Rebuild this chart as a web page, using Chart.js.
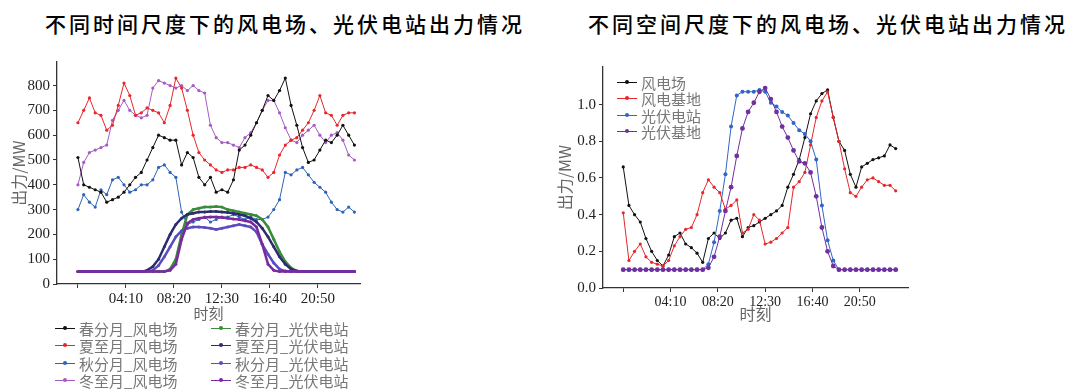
<!DOCTYPE html>
<html>
<head>
<meta charset="utf-8">
<script src="https://cdn.jsdelivr.net/npm/chart.js@4.4.1/dist/chart.umd.min.js"></script>
<style>
  body { margin: 0; background: #fff; width: 1077px; height: 389px; position: relative; overflow: hidden; font-family: "Noto Sans CJK SC", sans-serif; }
  .title { position: absolute; top: 8px; font-size: 21px; font-weight: 500; letter-spacing: 3px; color: #000; white-space: nowrap; transform: translateX(-50%); }
  .wrap { position: absolute; top: 46px; height: 276px; }
  .legend { position: absolute; font-size: 15px; color: #777; line-height: 1; }
  .item { position: absolute; display: flex; align-items: center; white-space: nowrap; }
  .mk { position: relative; width: 20px; height: 1px; margin-right: 4px; }
  .mk i { position: absolute; left: 8px; top: -2px; width: 4px; height: 4px; border-radius: 50%; }
</style>
</head>
<body>
<div class="title" style="left:285px">不同时间尺度下的风电场、光伏电站出力情况</div>
<div class="title" style="left:828px">不同空间尺度下的风电场、光伏电站出力情况</div>
<div class="wrap" style="left:0;width:385px"><canvas id="left"></canvas></div>
<div class="wrap" style="left:540px;width:400px"><canvas id="right"></canvas></div>
<div class="legend" id="legL"></div>
<div class="legend" id="legR"></div>
<script>
// time of day in minutes (00:00 .. 24:00, 30 min step)
const times = [0,30,60,90,120,150,180,210,240,270,300,330,360,390,420,450,480,510,540,570,600,630,660,690,720,
  750,780,810,840,870,900,930,960,990,1020,1050,1080,1110,1140,1170,1200,1230,1260,1290,1320,1350,1380,1410,1440];
const xTicks = [0,250,500,750,1000,1250];
const xTickLabels = ["","04:10","08:20","12:30","16:40","20:50"];

// left chart: seasonal months, MW
const springWind = [510,400,390,380,370,330,340,350,370,400,430,450,500,550,600,590,580,580,480,530,510,430,400,430,370,
  380,370,420,540,560,600,650,700,760,740,780,830,720,640,550,490,500,540,580,570,600,640,600,560];
const summerWind = [650,700,750,690,680,620,640,720,810,760,680,690,710,700,690,650,720,830,790,700,600,530,500,480,460,
  450,460,460,470,470,480,470,460,430,450,520,560,580,590,620,650,700,760,690,680,640,680,690,690];
const autumnWind = [300,360,330,310,380,360,420,430,400,370,380,400,400,420,470,480,450,430,290,240,250,260,270,250,260,
  270,270,280,270,260,270,260,260,270,300,340,450,440,460,470,440,410,390,370,330,300,290,310,290];
const winterWind = [400,490,530,540,550,560,660,700,740,700,680,670,680,790,820,810,800,790,800,780,800,780,770,640,590,
  570,570,560,550,590,610,650,700,740,740,690,630,580,570,600,620,640,600,570,600,610,580,520,500];
const springSolar = [50,50,50,50,50,50,50,50,50,50,50,50,50,50,50,50,60,100,200,280,300,305,310,310,312,
  310,300,295,290,285,280,275,260,230,180,130,90,65,52,50,50,50,50,50,50,50,50,50,50];
const summerSolar = [50,50,50,50,50,50,50,50,50,50,50,50,55,70,100,150,200,240,265,280,285,290,290,292,292,
  290,288,285,280,275,265,250,225,190,150,110,80,60,52,50,50,50,50,50,50,50,50,50,50];
const autumnSolar = [50,50,50,50,50,50,50,50,50,50,50,50,50,55,75,110,150,190,215,225,230,230,228,225,220,
  225,230,235,240,235,230,210,160,120,85,60,52,50,50,50,50,50,50,50,50,50,50,50,50];
const winterSolar = [50,50,50,50,50,50,50,50,50,50,50,50,50,50,50,50,55,80,180,245,260,265,268,270,270,
  268,265,262,260,255,250,230,160,80,55,50,50,50,50,50,50,50,50,50,50,50,50,50,50];
const yTicksL = [0,100,200,300,400,500,600,700,800];

// right chart: spatial scale, normalised output
const windFarm = [0.66,0.45,0.40,0.36,0.27,0.20,0.15,0.12,0.18,0.28,0.30,0.24,0.22,0.19,0.14,0.27,0.30,0.27,0.30,0.37,
  0.38,0.28,0.33,0.34,0.36,0.38,0.40,0.42,0.45,0.55,0.62,0.70,0.82,0.95,1.02,1.06,1.08,0.93,0.80,0.75,0.62,0.55,0.66,
  0.68,0.70,0.71,0.72,0.78,0.76];
const windBase = [0.41,0.15,0.20,0.24,0.17,0.14,0.13,0.12,0.15,0.23,0.28,0.32,0.33,0.40,0.52,0.59,0.55,0.52,0.43,0.45,
  0.48,0.30,0.32,0.40,0.37,0.24,0.25,0.27,0.30,0.33,0.55,0.58,0.63,0.78,0.93,1.02,1.07,0.93,0.80,0.65,0.52,0.50,0.55,
  0.59,0.60,0.58,0.56,0.56,0.53];
const pvStation = [0.10,0.10,0.10,0.10,0.10,0.10,0.10,0.10,0.10,0.10,0.10,0.10,0.10,0.10,0.10,0.13,0.25,0.42,0.62,0.88,
  1.05,1.07,1.07,1.07,1.08,1.07,1.01,0.99,0.96,0.94,0.90,0.86,0.84,0.80,0.70,0.45,0.26,0.15,0.10,0.10,0.10,0.10,0.10,
  0.10,0.10,0.10,0.10,0.10,0.10];
const pvBase = [0.10,0.10,0.10,0.10,0.10,0.10,0.10,0.10,0.10,0.10,0.10,0.10,0.10,0.10,0.10,0.11,0.17,0.28,0.42,0.55,
  0.72,0.87,0.96,1.01,1.07,1.09,1.03,0.96,0.88,0.82,0.75,0.69,0.68,0.63,0.50,0.33,0.20,0.12,0.10,0.10,0.10,0.10,0.10,
  0.10,0.10,0.10,0.10,0.10,0.10];
const yTicksR = [0,0.2,0.4,0.6,0.8,1.0];
const yTickLabelsR = ["0.0","0.2","0.4","0.6","0.8","1.0"];

function pts(vals) {
  return vals.map((v, i) => ({ x: times[i], y: v }));
}

function ds(label, vals, color, width, radius) {
  return {
    label: label,
    data: pts(vals),
    borderColor: color,
    backgroundColor: color,
    borderWidth: width,
    pointRadius: radius,
    pointBorderWidth: 0,
    pointBackgroundColor: color,
  };
}

const serif = "'Liberation Serif', 'Times New Roman', serif";
const cjk = "'Noto Sans CJK SC', sans-serif";

function makeConfig(datasets, o) {
  return {
    type: "line",
    data: { datasets: datasets },
    options: {
      responsive: true,
      maintainAspectRatio: false,
      animation: false,
      layout: { padding: { left: 0, top: o.padTop, right: o.padRight, bottom: 0 } },
      plugins: { legend: { display: false }, tooltip: { enabled: false } },
      scales: {
        x: {
          type: "linear",
          min: o.xMin,
          max: o.xMax,
          afterBuildTicks: (s) => { s.ticks = xTicks.map((v) => ({ value: v })); },
          afterFit: (s) => { s.height = o.xHeight; },
          ticks: {
            autoSkip: false, maxRotation: 0, padding: 2, color: "#222",
            font: { family: serif, size: o.tickSize },
            callback: (v, i) => xTickLabels[i],
          },
          grid: { drawOnChartArea: false, tickLength: 4, color: "#333" },
          border: { color: "#333", width: 1.3 },
          title: {
            display: true, text: "时刻", color: "#666",
            font: { family: cjk, size: o.titleSize, lineHeight: 1 },
            padding: { top: 0, bottom: o.xTitlePad },
          },
        },
        y: {
          min: 0,
          max: o.yMax,
          afterBuildTicks: (s) => { s.ticks = o.yTicks.map((v) => ({ value: v })); },
          afterFit: (s) => { s.width = o.yWidth; },
          ticks: {
            padding: 3, color: "#222",
            font: { family: serif, size: 15 },
            callback: o.yLabel,
          },
          grid: { drawOnChartArea: false, tickLength: 4, color: "#333" },
          border: { color: "#333", width: 1.3 },
          title: {
            display: true, text: "出力/MW", color: "#666",
            font: { family: cjk, size: 16, lineHeight: 1 },
            padding: { top: o.yTitlePad, bottom: 0 },
          },
        },
      },
    },
  };
}

// first dataset is drawn on top
const leftSets = [
  ds("冬至月_光伏电站", winterSolar, "#7a2a9e", 2.5, 1.5),
  ds("秋分月_光伏电站", autumnSolar, "#5a4cc0", 2.5, 1.5),
  ds("夏至月_光伏电站", summerSolar, "#2c2c6e", 2.5, 1.5),
  ds("春分月_光伏电站", springSolar, "#3a8c3a", 2.5, 1.5),
  ds("春分月_风电场", springWind, "#111111", 1, 1.6),
  ds("夏至月_风电场", summerWind, "#e8262b", 1, 1.6),
  ds("秋分月_风电场", autumnWind, "#2f63b8", 1, 1.6),
  ds("冬至月_风电场", winterWind, "#a55cc2", 1, 1.6),
];
const rightSets = [
  ds("光伏基地", pvBase, "#7030a0", 1, 2.4),
  ds("光伏电站", pvStation, "#3066c6", 1, 2),
  ds("风电基地", windBase, "#e8262b", 1, 1.6),
  ds("风电场", windFarm, "#111111", 1, 1.6),
];

new Chart(document.getElementById("left"), makeConfig(leftSets, {
  padTop: 16, padRight: 25, xMin: -109, xMax: 1469, xHeight: 38, xTitlePad: 1.5,
  tickSize: 15, titleSize: 15, yMax: 895, yTicks: yTicksL, yWidth: 57, yTitlePad: 11,
  yLabel: (v) => v,
}));
new Chart(document.getElementById("right"), makeConfig(rightSets, {
  padTop: 21, padRight: 32, xMin: -107, xMax: 1505, xHeight: 34, xTitlePad: 0,
  tickSize: 14, titleSize: 16, yMax: 1.205, yTicks: yTicksR, yWidth: 63, yTitlePad: 17,
  yLabel: (v, i) => yTickLabelsR[i],
}));

// legends drawn as html text
function buildLegend(el, entries, left, top, cols, rowH) {
  el.style.left = left + "px";
  el.style.top = top + "px";
  entries.forEach((e, k) => {
    const col = Math.floor(k / cols.rows);
    const row = k % cols.rows;
    const it = document.createElement("div");
    it.className = "item";
    it.style.left = cols.x[col] + "px";
    it.style.top = (row * rowH) + "px";
    it.innerHTML = '<span class="mk" style="background:' + e.borderColor + '"><i style="background:' + e.borderColor + '"></i></span>' + e.label;
    el.appendChild(it);
  });
}
const legLeftOrder = [4, 5, 6, 7, 3, 2, 1, 0].map((i) => leftSets[i]);
buildLegend(document.getElementById("legL"), legLeftOrder, 55, 321, { rows: 4, x: [0, 156] }, 17.3);
const legRightOrder = [3, 2, 1, 0].map((i) => rightSets[i]);
buildLegend(document.getElementById("legR"), legRightOrder, 617, 75, { rows: 4, x: [0] }, 16.3);
</script>
</body>
</html>
